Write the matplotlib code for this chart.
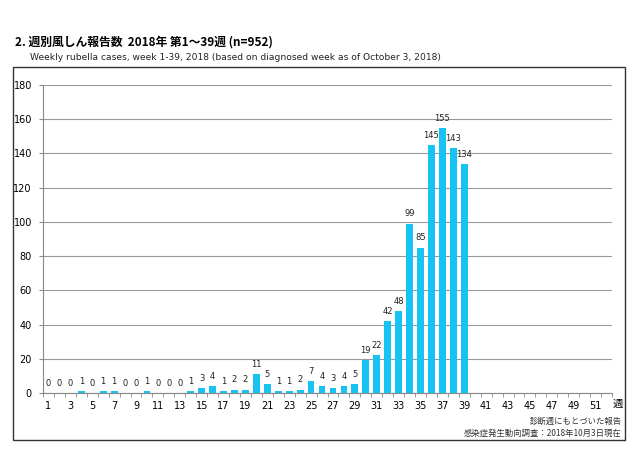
import matplotlib.pyplot as plt
import numpy as np

plt.rcParams['font.family'] = ['DejaVu Sans', 'Noto Sans CJK JP']

weeks = list(range(1, 53))
cases = [0, 0, 0, 1, 0, 1, 1, 0, 0, 1,
         0, 0, 0, 1, 3, 4, 1, 2, 2, 11,
         5, 1, 1, 2, 7, 4, 3, 4, 5, 19,
         22, 42, 48, 99, 85, 145, 155, 143, 134]
title = '2. 週別風しん報告数  2018年 第1～39週 (n=952)'
subtitle = 'Weekly rubella cases, week 1-39, 2018 (based on diagnosed week as of October 3, 2018)'

fig = plt.figure(figsize=(6.4, 4.53), dpi=100)
ax = fig.add_axes([43/640, 1 - 393/453, (612 - 43)/640, (393 - 85)/453])

# frame around the chart
fig.patches.append(plt.Rectangle((13/640, 1 - 440/453), (625 - 13)/640, (440 - 67)/453,
                                 transform=fig.transFigure, fill=False,
                                 edgecolor='#333333', linewidth=1.0))

x = np.arange(1, len(cases) + 1)
ax.bar(x, cases, width=0.62, color='#16C3F3', zorder=3)
for xi, v in zip(x, cases):
    ax.text(xi, v + 3, str(v), ha='center', va='bottom', fontsize=6, color='#222222')

ax.set_xlim(0.5, 52.5)
ax.set_ylim(0, 180)
ax.set_yticks(range(0, 181, 20))
ax.yaxis.grid(True, color='#999999', linewidth=0.8, zorder=0)
ax.set_xticks(np.arange(0.5, 53, 1), minor=True)
ax.set_xticks(weeks[::2])
ax.set_xticklabels([str(w) for w in weeks[::2]])
ax.tick_params(axis='x', which='minor', length=3, color='#888888', direction='out')
ax.tick_params(axis='x', which='major', length=0, labelsize=7, pad=6)
ax.tick_params(axis='y', length=3, color='#888888', labelsize=7, pad=5)
for s in ['top', 'right']:
    ax.spines[s].set_visible(False)
ax.spines['left'].set_color('#888888')
ax.spines['bottom'].set_color('#888888')

fig.text(618/640, 1 - 404/453, '週', fontsize=7.5, ha='center', va='center',
         family=['Noto Sans CJK JP'])
fig.text(15/640, 1 - 42/453, title, fontsize=8.5, fontweight='bold', va='center',
         family=['Noto Sans CJK JP', 'DejaVu Sans'])
fig.text(30/640, 1 - 57/453, subtitle, fontsize=6.6, va='center', color='#222222')
fig.text(622/640, 1 - 421/453, '診断週にもとづいた報告', fontsize=6, ha='right', va='center',
         family=['Noto Sans CJK JP'], color='#333333')
fig.text(622/640, 1 - 433/453, '感染症発生動向調査：2018年10月3日現在', fontsize=6, ha='right',
         va='center', family=['Noto Sans CJK JP'], color='#333333')

fig.savefig('out.png', dpi=100)
